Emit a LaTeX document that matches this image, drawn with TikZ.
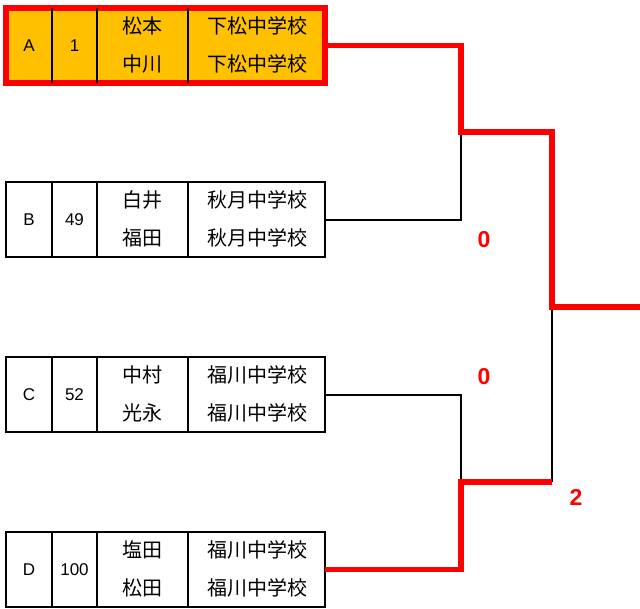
\documentclass[tikz,border=0pt]{standalone}
\usepackage{fontspec}
\setmainfont{Noto Sans CJK JP}
\newfontfamily\latinfont{Liberation Sans}
\usetikzlibrary{calc}
\definecolor{winyellow}{HTML}{FFC000}
\definecolor{winred}{HTML}{FF0000}
\tikzset{
  entrybox/.style={draw=black, line width=1.8pt, rectangle, minimum width=319pt, minimum height=75pt, anchor=north west, outer sep=0pt, inner sep=0pt},
  winbox/.style={entrybox, fill=winyellow, draw=winred, line width=6pt},
  divider/.style={draw=black, line width=1.8pt},
  cjk/.style={font=\fontsize{20pt}{22pt}\selectfont, inner sep=0pt},
  lat/.style={font=\latinfont\fontsize{17pt}{19pt}\selectfont, inner sep=0pt},
  blackline/.style={draw=black, line width=2pt},
  redline/.style={draw=winred, line width=5.5pt},
  score/.style={font=\latinfont\bfseries\fontsize{23pt}{25pt}\selectfont, text=winred, inner sep=0pt},
}
\newcommand{\entryrow}[9]{%
  \node[#9] (#1) at (6,#2) {};
  \draw[divider] ($(#1.north west)+(46,0)$) -- ($(#1.south west)+(46,0)$);
  \draw[divider] ($(#1.north west)+(91,0)$) -- ($(#1.south west)+(91,0)$);
  \draw[divider] ($(#1.north west)+(182,0)$) -- ($(#1.south west)+(182,0)$);
  \node[lat] (#1-l) at ($(#1.north west)+(23,37.5)$) {#3};
  \node[lat] (#1-n) at ($(#1.north west)+(68.5,37.5)$) {#4};
  \node[cjk] (#1-p1) at ($(#1.north west)+(136.5,18)$) {#5};
  \node[cjk] (#1-p2) at ($(#1.north west)+(136.5,56)$) {#6};
  \node[cjk] (#1-s1) at ($(#1.north west)+(251,18)$) {#7};
  \node[cjk] (#1-s2) at ($(#1.north west)+(251,56)$) {#8};
}
\begin{document}
\begin{tikzpicture}[x=1pt,y=-1pt]
\useasboundingbox (0,0) rectangle (640,608);
\entryrow{A}{8}{A}{1}{松本}{中川}{下松中学校}{下松中学校}{winbox}
\entryrow{B}{182}{B}{49}{白井}{福田}{秋月中学校}{秋月中学校}{entrybox}
\entryrow{C}{357}{C}{52}{中村}{光永}{福川中学校}{福川中学校}{entrybox}
\entryrow{D}{532}{D}{100}{塩田}{松田}{福川中学校}{福川中学校}{entrybox}
\coordinate (s1) at (461,132);
\coordinate (s2) at (461,482);
\coordinate (f) at (552,307);
\coordinate (out) at (640,307);
\draw[blackline] (B.east) -| (s1);
\draw[blackline] (C.east) -| (s2);
\draw[blackline] (f |- s2) -- (f);
\draw[redline] (A.east) -| (s1) -| (f) -- (out);
\draw[redline] (D.east) -| (s2) -- (f |- s2);
\node[score] (sc1) at (484,240) {0};
\node[score] (sc2) at (484,377) {0};
\node[score] (sc3) at (576,497) {2};
\end{tikzpicture}
\end{document}
